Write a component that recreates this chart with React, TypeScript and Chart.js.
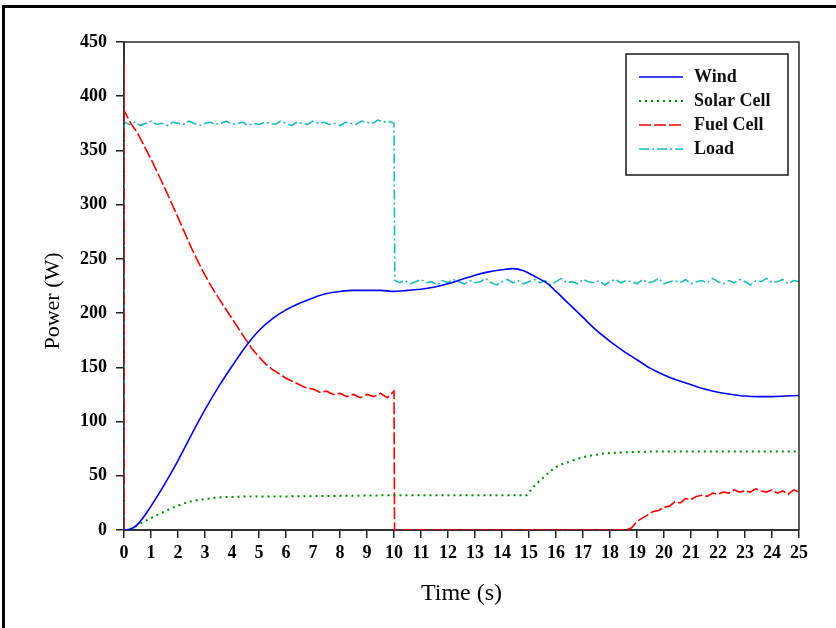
import React, { useEffect, useRef } from "react";
import { Chart, registerables } from "chart.js";

Chart.register(...registerables);

// ---------- data (time in s, power in W) ----------
const xTicks = { min: 0, max: 25, step: 1 };
const yTicks = { min: 0, max: 450, step: 50 };

const windTime = [0, 0.25, 0.5, 1, 1.5, 2, 2.5, 3, 3.5, 4, 4.5, 5, 5.5, 6, 6.5, 7, 7.5, 8, 8.5, 9, 9.5, 10, 10.5, 11, 11.5, 12, 12.5, 13, 13.5, 14, 14.4, 14.8, 15.2, 15.7, 16, 16.5, 17, 17.5, 18, 18.5, 19, 19.5, 20, 20.5, 21, 21.5, 22, 22.5, 23, 23.5, 24, 24.5, 25];
const windPower = [0, 1, 5, 22, 42, 64, 88, 111, 132, 151, 169, 184, 195, 203, 209, 214, 218, 220, 221, 221, 221, 220, 221, 222, 224, 227, 231, 235, 238, 240, 241, 239, 234, 227, 220, 208, 196, 184, 174, 165, 157, 149, 143, 138, 134, 130, 127, 125, 123.5, 123, 123, 123.5, 124];

const solarTime = [0, 0.25, 0.5, 1, 1.5, 2, 2.5, 3, 3.5, 4, 5, 6, 8, 10, 12, 14, 14.9, 15.1, 15.3, 15.6, 16, 16.5, 17, 17.5, 18, 18.5, 19, 20, 22, 25];
const solarPower = [0, 1, 4.5, 11, 17, 22.5, 26.5, 28.5, 30, 30.5, 31, 31, 31.5, 32, 32, 32, 32, 38, 43, 50, 58, 63, 67, 69.5, 71, 71.5, 72, 72.5, 72.5, 72.5];

// Fuel cell: start spike, 0.25 s samples up to 10 s, zero section, 0.2 s samples from 18.6 s
const fuelStartTime = [0, 0, 0];
const fuelStartPower = [0, 430, 387];
const fuelHighStart = 0.25;
const fuelHighStep = 0.25;
const fuelHighPower = [375, 366, 354, 342, 329, 316, 302, 288, 274, 260, 247, 235, 224, 214, 204.5, 195, 185.5, 176, 167, 159.5, 153, 148, 144, 140, 137, 134, 131, 130, 127, 128, 125, 126, 123, 125, 122, 125, 123, 126, 122, 128];
const fuelCutTime = [10.02];
const fuelCutPower = [0];
const fuelLowStart = 18.6;
const fuelLowStep = 0.2;
const fuelLowPower = [0, 2, 8, 11, 14, 17, 18, 21, 22, 26, 25, 29, 28, 31, 32, 31, 34, 33, 35, 34, 37, 35, 36, 35, 38, 36, 35, 37, 34, 36, 33, 37, 35];

// Load: start spike, 0.2 s samples before and after the 10 s step
const loadStartTime = [0, 0];
const loadStartPower = [0, 430];
const loadHighStart = 0;
const loadHighStep = 0.2;
const loadHighPower = [376, 374, 376, 373, 375, 377, 374, 375, 373, 376, 375, 374, 377, 375, 373, 375, 376, 374, 375, 377, 374, 375, 376, 373, 375, 374, 376, 375, 374, 377, 375, 373, 376, 375, 374, 377, 375, 376, 374, 375, 373, 376, 375, 374, 377, 376, 375, 378, 376, 377, 375];
const loadStepTime = [10.03];
const loadStepPower = [230];
const loadLowStart = 10.2;
const loadLowStep = 0.2;
const loadLowPower = [228, 230, 227, 229, 231, 228, 229, 226, 230, 228, 231, 229, 227, 230, 228, 229, 232, 228, 226, 229, 231, 228, 230, 227, 229, 231, 228, 230, 226, 229, 232, 228, 229, 227, 231, 229, 228, 230, 226, 229, 231, 228, 230, 229, 227, 231, 228, 229, 232, 227, 229, 230, 228, 231, 227, 229, 230, 228, 232, 229, 227, 230, 228, 231, 229, 226, 230, 229, 232, 228, 229, 231, 227, 230, 229];

const seriesLabels = ["Wind", "Solar Cell", "Fuel Cell", "Load"];
const seriesColors = ["#0000ff", "#008a00", "#ff0000", "#1cbcbc"];

// ---------- helpers ----------
const pairs = (ts: number[], vs: number[]) => ts.map((t, i) => ({ x: t, y: vs[i] }));
const sampled = (start: number, step: number, vs: number[]) =>
  vs.map((v, i) => ({ x: +(start + i * step).toFixed(4), y: v }));

const SERIF = "'Liberation Serif', 'Times New Roman', serif";

const decorPlugin = {
  id: "decor",
  afterDraw(chart: any) {
    const { ctx, chartArea } = chart;
    const { left, right, top, bottom } = chartArea;
    ctx.save();
    // top & right frame of plot box
    ctx.strokeStyle = "#2a2a2a";
    ctx.lineWidth = 1.5;
    ctx.beginPath();
    ctx.moveTo(left, top);
    ctx.lineTo(right, top);
    ctx.lineTo(right, bottom);
    ctx.stroke();

    // y axis title
    ctx.fillStyle = "#000";
    ctx.font = `22px ${SERIF}`;
    ctx.textAlign = "center";
    ctx.textBaseline = "middle";
    ctx.translate(53, (top + bottom) / 2 + 15);
    ctx.rotate(-Math.PI / 2);
    ctx.fillText("Power (W)", 0, 0);
    ctx.restore();

    // legend
    ctx.save();
    const bx = right - 173;
    const by = top + 12;
    const bw = 162;
    const bh = 121;
    ctx.fillStyle = "#fff";
    ctx.fillRect(bx, by, bw, bh);
    ctx.strokeStyle = "#1a1a1a";
    ctx.lineWidth = 1.5;
    ctx.strokeRect(bx, by, bw, bh);
    ctx.font = `bold 18px ${SERIF}`;
    ctx.textAlign = "left";
    ctx.textBaseline = "middle";
    chart.data.datasets.forEach((ds: any, i: number) => {
      const y = by + 23 + i * 24;
      ctx.strokeStyle = ds.borderColor;
      ctx.lineWidth = ds.borderWidth;
      ctx.setLineDash(ds.borderDash || []);
      ctx.beginPath();
      ctx.moveTo(bx + 13, y);
      ctx.lineTo(bx + 57, y);
      ctx.stroke();
      ctx.setLineDash([]);
      ctx.fillStyle = "#111";
      ctx.fillText(ds.label, bx + 68, y);
    });
    ctx.restore();
  },
};

export default function App() {
  const canvasRef = useRef<HTMLCanvasElement | null>(null);

  useEffect(() => {
    if (!canvasRef.current) return;
    const windData = pairs(windTime, windPower);
    const solarData = pairs(solarTime, solarPower);
    const fuelData = [
      ...pairs(fuelStartTime, fuelStartPower),
      ...sampled(fuelHighStart, fuelHighStep, fuelHighPower),
      ...pairs(fuelCutTime, fuelCutPower),
      ...sampled(fuelLowStart, fuelLowStep, fuelLowPower),
    ];
    const loadData = [
      ...pairs(loadStartTime, loadStartPower),
      ...sampled(loadHighStart, loadHighStep, loadHighPower),
      ...pairs(loadStepTime, loadStepPower),
      ...sampled(loadLowStart, loadLowStep, loadLowPower),
    ];

    const tickFont = { family: SERIF, size: 18, weight: "bold" as const };

    const chart = new Chart(canvasRef.current, {
      type: "line",
      data: {
        datasets: [
          {
            label: seriesLabels[0],
            data: windData,
            borderColor: seriesColors[0],
            borderWidth: 1.6,
            pointRadius: 0,
            cubicInterpolationMode: "monotone",
          },
          {
            label: seriesLabels[1],
            data: solarData,
            borderColor: seriesColors[1],
            borderWidth: 2,
            borderDash: [2, 4],
            pointRadius: 0,
            cubicInterpolationMode: "monotone",
          },
          {
            label: seriesLabels[2],
            data: fuelData,
            borderColor: seriesColors[2],
            borderWidth: 1.6,
            borderDash: [12, 3],
            pointRadius: 0,
            tension: 0,
          },
          {
            label: seriesLabels[3],
            data: loadData,
            borderColor: seriesColors[3],
            borderWidth: 1.6,
            borderDash: [10, 3, 2, 3],
            pointRadius: 0,
            tension: 0,
          },
        ],
      },
      options: {
        animation: false,
        responsive: false,
        maintainAspectRatio: false,
        events: [],
        layout: { padding: { left: 0, top: 42, right: 37, bottom: 0 } },
        plugins: {
          legend: { display: false },
          title: { display: false },
          tooltip: { enabled: false },
        },
        scales: {
          x: {
            type: "linear",
            min: xTicks.min,
            max: xTicks.max,
            afterFit: (s: any) => {
              s.height = 98;
            },
            ticks: { stepSize: xTicks.step, color: "#000", font: tickFont, padding: 5, maxRotation: 0, autoSkip: false },
            grid: { display: true, drawOnChartArea: false, drawTicks: true, tickLength: 8, color: "#222", lineWidth: 1.5 },
            border: { display: true, color: "#333", width: 2 },
            title: {
              display: true,
              text: "Time (s)",
              color: "#000",
              font: { family: SERIF, size: 24, weight: "normal" },
              padding: { top: 0, bottom: 20 },
            },
          },
          y: {
            type: "linear",
            min: yTicks.min,
            max: yTicks.max,
            afterFit: (s: any) => {
              s.width = 124;
            },
            ticks: { stepSize: yTicks.step, color: "#000", font: tickFont, padding: 9 },
            grid: { display: true, drawOnChartArea: false, drawTicks: true, tickLength: 8, color: "#222", lineWidth: 1.5 },
            border: { display: true, color: "#333", width: 2 },
          },
        },
      },
      plugins: [decorPlugin],
    });
    return () => chart.destroy();
  }, []);

  return (
    <div style={{ position: "absolute", left: 0, top: 0, width: 836, height: 628, background: "#fff", overflow: "hidden" }}>
      <canvas ref={canvasRef} width={836} height={628} style={{ display: "block" }} />
      <div
        style={{
          position: "absolute",
          left: 2,
          top: 5,
          width: 900,
          height: 700,
          borderLeft: "3px solid #000",
          borderTop: "3px solid #000",
          pointerEvents: "none",
        }}
      />
    </div>
  );
}
